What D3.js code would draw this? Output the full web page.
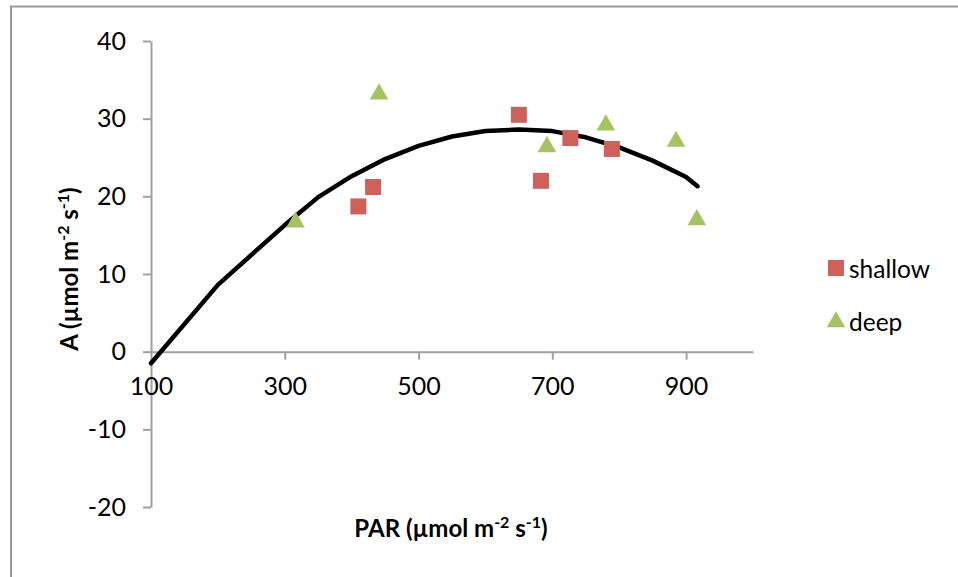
<!DOCTYPE html>
<html>
<head>
<meta charset="utf-8">
<script src="https://cdn.jsdelivr.net/npm/d3@7"></script>
<style>
  body { margin: 0; background: #fff; }
  text { font-family: Lato, "Open Sans", sans-serif; fill: #000; }
</style>
</head>
<body>
<div id="chart"></div>
<script>
// fitted curve
var curvePar = [100, 200, 300, 350, 400, 450, 500, 550, 600, 650, 700, 750, 800, 850, 900, 917];
var curveA   = [-1.5, 8.6, 16.3, 19.9, 22.6, 24.8, 26.5, 27.7, 28.4, 28.6, 28.4, 27.6, 26.3, 24.6, 22.5, 21.3];

var shallowPar = [410, 432, 650, 683, 727, 789];
var shallowA   = [18.7, 21.2, 30.5, 22.0, 27.5, 26.1];

var deepPar = [316, 441, 692, 780, 885, 916];
var deepA   = [16.8, 33.3, 26.5, 29.3, 27.2, 17.1];

var xTicks = [100, 300, 500, 700, 900];
var yTicks = [-20, -10, 0, 10, 20, 30, 40];

var W = 958, H = 577;

var svg = d3.select("#chart").append("svg")
    .attr("width", W)
    .attr("height", H);

// outer frame
svg.append("path")
    .attr("d", "M11," + H + "V6.5H" + W)
    .attr("fill", "none")
    .attr("stroke", "#9a9a9a")
    .attr("stroke-width", 2);

var x = d3.scaleLinear().domain([100, 1000]).range([151, 753]);
var y = d3.scaleLinear().domain([-20, 40]).range([507, 41]);

var axisColor = "#a0a0a0";

// y axis
var yAxis = svg.append("g")
    .attr("transform", "translate(" + x(100) + ",0)")
    .call(d3.axisLeft(y).tickValues(yTicks).tickFormat(String)
        .tickSize(8).tickSizeOuter(0).tickPadding(17));
// x axis at y = 0
var xAxis = svg.append("g")
    .attr("transform", "translate(0," + y(0) + ")")
    .call(d3.axisBottom(x).tickValues(xTicks).tickFormat(String)
        .tickSize(8).tickSizeOuter(0).tickPadding(18));

[xAxis, yAxis].forEach(function(g){
    g.select(".domain").attr("stroke", axisColor).attr("stroke-width", 2);
    g.selectAll(".tick line").attr("stroke", axisColor).attr("stroke-width", 2);
    g.selectAll(".tick text").style("font-size", "25px").attr("fill", "#000");
});
// first x tick coincides with the y axis
xAxis.selectAll(".tick").filter(function(d){ return d === 100; }).select("line").remove();

// curve
var curve = curvePar.map(function(p, i){ return [p, curveA[i]]; });
svg.append("path")
    .datum(curve)
    .attr("fill", "none")
    .attr("stroke", "#000")
    .attr("stroke-width", 4.5)
    .attr("stroke-linejoin", "round")
    .attr("stroke-linecap", "round")
    .attr("d", d3.line().x(function(d){ return x(d[0]); }).y(function(d){ return y(d[1]); }));

var red = "#cf615a", green = "#a5c362";
var sq = d3.symbol().type(d3.symbolSquare).size(256);
var tri = d3.symbol().type(d3.symbolTriangle).size(150);

svg.append("g").selectAll("path")
    .data(shallowPar)
    .enter().append("path")
    .attr("d", sq)
    .attr("fill", red)
    .attr("transform", function(d, i){ return "translate(" + x(d) + "," + y(shallowA[i]) + ")"; });

svg.append("g").selectAll("path")
    .data(deepPar)
    .enter().append("path")
    .attr("d", tri)
    .attr("fill", green)
    .attr("transform", function(d, i){ return "translate(" + x(d) + "," + (y(deepA[i]) + 1) + ")"; });

// legend
var legend = svg.append("g");
legend.append("path").attr("d", sq).attr("fill", red)
    .attr("transform", "translate(836,268)");
legend.append("text").attr("x", 849).attr("y", 278).style("font-size", "24.5px").text("shallow");
legend.append("path").attr("d", tri).attr("fill", green)
    .attr("transform", "translate(836,322)");
legend.append("text").attr("x", 849).attr("y", 331).style("font-size", "24.5px").text("deep");

// axis titles
function title(t, label){
    t.style("font-size", "24px").style("font-weight", "bold").attr("text-anchor", "middle");
    t.append("tspan").text(label + " (µmol m");
    t.append("tspan").attr("dy", -9).style("font-size", "16px").text("-2");
    t.append("tspan").attr("dy", 9).text(" s");
    t.append("tspan").attr("dy", -9).style("font-size", "16px").text("-1");
    t.append("tspan").attr("dy", 9).text(")");
}
title(svg.append("text").attr("x", 451).attr("y", 537), "PAR");
title(svg.append("text").attr("transform", "translate(78,269) rotate(-90)"), "A");
</script>
</body>
</html>
